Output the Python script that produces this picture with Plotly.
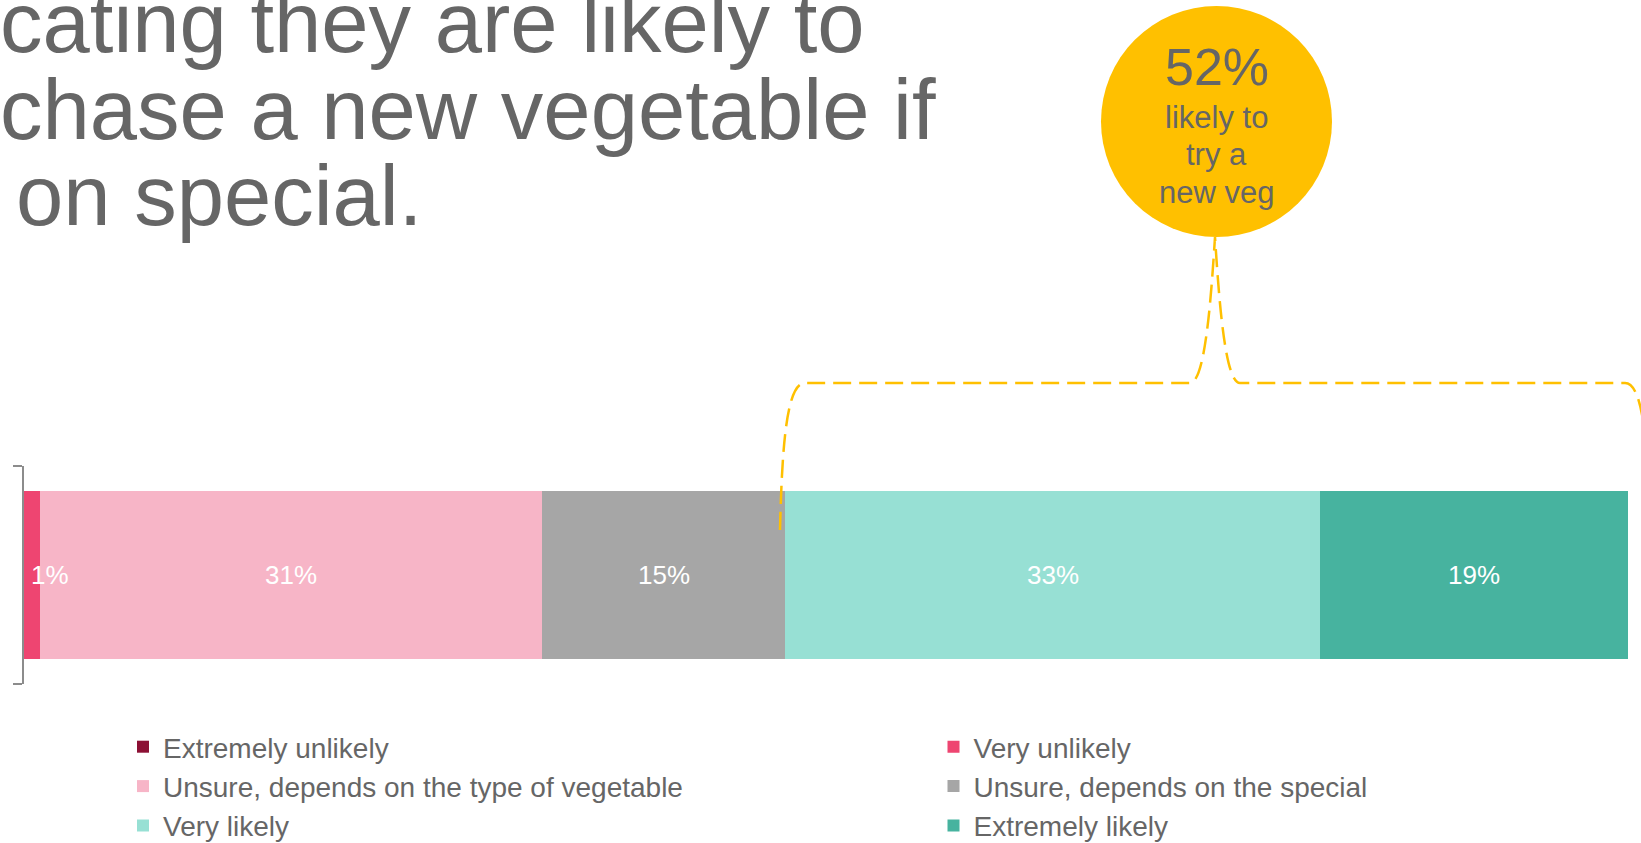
import plotly.graph_objects as go

# ---- data -------------------------------------------------------------
categories = [
    "Extremely unlikely",
    "Very unlikely",
    "Unsure, depends on the type of vegetable",
    "Unsure, depends on the special",
    "Very likely",
    "Extremely likely",
]
values = [0, 1, 31, 15, 33, 19]  # percent of respondents
colors = ["#8C1034", "#EE4571", "#F7B5C7", "#A6A6A6", "#97E0D4", "#47B39F"]
legend_column = ["legend", "legend2", "legend", "legend2", "legend", "legend2"]
row_label = ["All respondents"]
likely_groups = ["Very likely", "Extremely likely"]

title_lines = ["cating they are likely to", "chase a new vegetable if", "on special."]
callout_lines = ["likely to", "try a", "new veg"]

# ---- page geometry ----------------------------------------------------
FIG_W, FIG_H = 1641, 843
M_L, M_R, M_T, M_B = 24, 13, 466, 159
PLOT_W = FIG_W - M_L - M_R
PLOT_H = FIG_H - M_T - M_B

FONT = "Arial, 'Liberation Sans', sans-serif"
GREY_TEXT = "#666666"
GOLD = "#FFC000"


def xp(px):
    """Pixel column -> paper x."""
    return (px - M_L) / PLOT_W


def yp(py):
    """Pixel row (from top) -> paper y."""
    return (FIG_H - M_B - py) / PLOT_H


fig = go.Figure()

for name, v, c, leg in zip(categories, values, colors, legend_column):
    fig.add_trace(
        go.Bar(
            x=[v],
            y=row_label,
            orientation="h",
            name=name,
            marker=dict(color=c, line=dict(width=0)),
            legend=leg,
            hovertemplate=f"{name}: %{{x}}%<extra></extra>",
        )
    )

annotations = []

# segment value labels (narrow segments get their label pushed to the right)
start = 0
for v in values:
    if v > 0:
        narrow = v < 3
        annotations.append(
            dict(
                x=start + v / 2,
                y=row_label[0],
                xref="x",
                yref="y",
                text=f"{v}%",
                showarrow=False,
                xanchor="left" if narrow else "center",
                xshift=-3 if narrow else 0,
                yanchor="middle",
                font=dict(family=FONT, size=26, color="white"),
            )
        )
    start += v

# headline text
title_pos = [(-2.4, 22.6), (-2.4, 109.6), (13.6, 195.6)]
for line, (tx, ty) in zip(title_lines, title_pos):
    annotations.append(
        dict(
            x=xp(tx), y=yp(ty), xref="paper", yref="paper",
            text=line, showarrow=False, xanchor="left", yanchor="middle",
            font=dict(family=FONT, size=85, color=GREY_TEXT),
        )
    )

# gold call-out bubble
CX, CY, CR = 1216.5, 121.5, 115.5
likely_total = sum(v for n, v in zip(categories, values) if n in likely_groups)
annotations.append(
    dict(
        x=xp(CX), y=yp(66.8), xref="paper", yref="paper",
        text=f"{likely_total}%", showarrow=False, xanchor="center", yanchor="middle",
        font=dict(family=FONT, size=52, color=GREY_TEXT),
    )
)
for line, ty in zip(callout_lines, [117.5, 154.9, 192.5]):
    annotations.append(
        dict(
            x=xp(CX), y=yp(ty), xref="paper", yref="paper",
            text=line, showarrow=False, xanchor="center", yanchor="middle",
            font=dict(family=FONT, size=31, color=GREY_TEXT),
        )
    )


def brace_path(points):
    """Build an SVG path (in paper units) from pixel commands."""
    parts = []
    for cmd, pts in points:
        coords = " ".join(f"{xp(x):.5f},{yp(y):.5f}" for x, y in pts)
        parts.append(f"{cmd} {coords}")
    return " ".join(parts)


brace = brace_path([
    ("M", [(780, 530)]),
    ("C", [(782, 450), (786, 383), (805, 383)]),
    ("L", [(1190, 383)]),
    ("C", [(1205, 383), (1211, 300), (1215, 237)]),
    ("C", [(1219, 300), (1225, 383), (1240, 383)]),
    ("L", [(1625, 383)]),
    ("C", [(1644, 383), (1648, 450), (1650, 530)]),
])

shapes = [
    dict(
        type="path", path=brace, xref="paper", yref="paper", layer="above",
        line=dict(color=GOLD, width=2.5, dash="18px,8px"),
    ),
    dict(
        type="circle", xref="paper", yref="paper", layer="above",
        x0=xp(CX - CR), x1=xp(CX + CR), y0=yp(CY + CR), y1=yp(CY - CR),
        fillcolor=GOLD, line=dict(width=0),
    ),
]

legend_style = dict(
    xanchor="left", yanchor="top", orientation="v", traceorder="normal",
    font=dict(family=FONT, size=28, color=GREY_TEXT),
    bgcolor="rgba(0,0,0,0)", borderwidth=0,
)

fig.update_layout(
    width=FIG_W,
    height=FIG_H,
    margin=dict(l=M_L, r=M_R, t=M_T, b=M_B, autoexpand=False),
    paper_bgcolor="white",
    plot_bgcolor="white",
    barmode="stack",
    bargap=0.23,
    font=dict(family=FONT, color=GREY_TEXT),
    xaxis=dict(range=[0, sum(values)], visible=False, fixedrange=True),
    yaxis=dict(
        type="category",
        range=[-0.5, 0.5],
        showline=True,
        linecolor="#8C8C8C",
        linewidth=1.5,
        ticks="outside",
        tickson="boundaries",
        ticklen=9,
        tickwidth=1.5,
        tickcolor="#8C8C8C",
        showticklabels=False,
        showgrid=False,
        zeroline=False,
        fixedrange=True,
    ),
    legend=dict(x=xp(123), y=yp(722), **legend_style),
    legend2=dict(x=xp(933.5), y=yp(722), **legend_style),
    annotations=annotations,
    shapes=shapes,
    showlegend=True,
)

fig.write_html("out.html", config={"displayModeBar": False})
